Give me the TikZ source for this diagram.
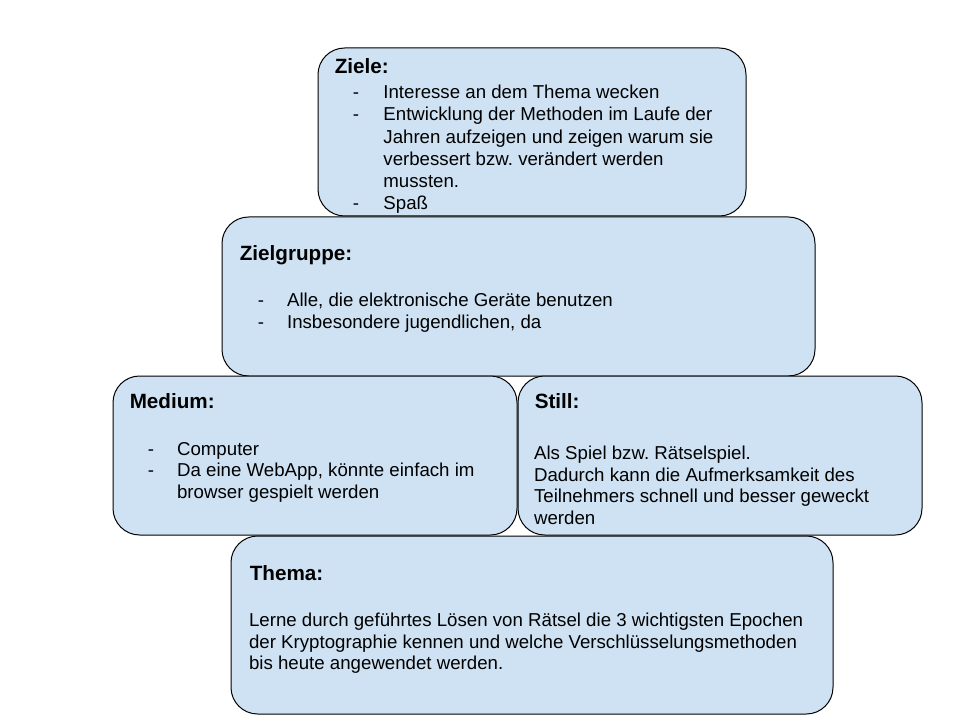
\documentclass[tikz,border=0pt]{standalone}
\usepackage{fontspec}
\setmainfont{Liberation Sans}
\usepackage{tikz}
\usetikzlibrary{positioning}
\frenchspacing

\definecolor{boxblue}{HTML}{CFE2F3}
\newcommand{\textlines}[1]{\begin{tabular}[t]{@{}l@{}}#1\end{tabular}}
\newcommand{\dashlist}[2][22pt]{\begin{tabular}[t]{@{}p{#1}@{}l@{}}#2\end{tabular}}

\begin{document}
\begin{tikzpicture}[x=0.75pt,y=-0.75pt,
  box/.style={draw=black, fill=boxblue, line width=0.75pt, rounded corners=20pt, inner sep=0pt},
  head/.style={anchor=base west, inner sep=0pt, font=\fontsize{15.5}{18}\selectfont\bfseries},
  body/.style={anchor=base west, inner sep=0pt, font=\fontsize{14}{16.3}\selectfont}]
  \useasboundingbox (0,0) rectangle (960,720);

  % boxes
  \node[box, minimum width=428*0.75pt, minimum height=168*0.75pt] (ziele) at (532,132) {};
  \node[box, minimum width=593*0.75pt, minimum height=159*0.75pt] (gruppe) at (518.5,296.5) {};
  \node[box, minimum width=404*0.75pt, minimum height=159*0.75pt] (medium) at (315,455.5) {};
  \node[box, minimum width=404*0.75pt, minimum height=159*0.75pt] (still) at (720,455.5) {};
  \node[box, minimum width=602*0.75pt, minimum height=178*0.75pt] (thema) at (532,625) {};

  % Ziele
  \node[head] (zielehead) at ([shift={(17,26)}]ziele.north west) {Ziele:};
  \node[body, font=\fontsize{14}{16.6}\selectfont] (zieletext) at ([shift={(35,51.3)}]ziele.north west) {\dashlist[23pt]{%
    -& Interesse an dem Thema wecken\\
    -& Entwicklung der Methoden im Laufe der\\
     & Jahren aufzeigen und zeigen warum sie\\
     & verbessert bzw. verändert werden\\
     & mussten.\\
    -& Spaß}};

  % Zielgruppe
  \node[head] (gruppehead) at ([shift={(18,44.5)}]gruppe.north west) {Zielgruppe:};
  \node[body] (gruppetext) at ([shift={(36,90)}]gruppe.north west) {\dashlist{%
    -& Alle, die elektronische Geräte benutzen\\
    -& Insbesondere jugendlichen, da}};

  % Medium
  \node[head] (mediumhead) at ([shift={(17,33)}]medium.north west) {Medium:};
  \node[body] (mediumtext) at ([shift={(35,79.5)}]medium.north west) {\dashlist{%
    -& Computer\\
    -& Da eine WebApp, könnte einfach im\\
     & browser gespielt werden}};

  % Still
  \node[head] (stillhead) at ([shift={(17,33)}]still.north west) {Still:};
  \node[body] (stilltext) at ([shift={(16.3,83.8)}]still.north west) {\textlines{%
    Als Spiel bzw. Rätselspiel.\\
    Dadurch kann die Aufmerksamkeit des\\
    Teilnehmers schnell und besser geweckt\\
    werden}};

  % Thema
  \node[head] (themahead) at ([shift={(19,44.5)}]thema.north west) {Thema:};
  \node[body] (thematext) at ([shift={(18.3,91)}]thema.north west) {\textlines{%
    Lerne durch geführtes Lösen von Rätsel die 3 wichtigsten Epochen\\
    der Kryptographie kennen und welche Verschlüsselungsmethoden\\
    bis heute angewendet werden.}};
\end{tikzpicture}
\end{document}
